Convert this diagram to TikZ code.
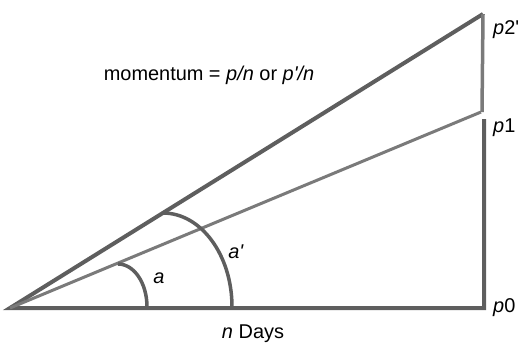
\documentclass[tikz,border=0pt]{standalone}
\usepackage{fontspec}
\setmainfont{Liberation Sans}
\usepackage{xcolor}
\definecolor{lineDark}{HTML}{5E5E5E}
\definecolor{lineLight}{HTML}{7A7A7A}
\usepackage{tikz}
\usetikzlibrary{calc}

\begin{document}
\begin{tikzpicture}[
    x=1bp, y=1bp,
    darkline/.style={draw=lineDark, line width=4bp, line join=miter},
    lightline/.style={draw=lineLight, line width=3bp},
    arcline/.style={draw=lineDark, line width=3.5bp},
    lbl/.style={font=\fontsize{20}{24}\selectfont, text=black, inner sep=0pt}
]
\useasboundingbox (0,0) rectangle (522,343);

% corner points of the two triangles
\coordinate (origin) at (10,35);
\coordinate (base) at (484,35);
\coordinate (top) at (483,329);
\coordinate (mid) at (481,231);
\coordinate (upperEnd) at (482,231);
\coordinate (lowerTop) at (484,224);

% ends of the angle arcs
\coordinate (aTop) at (118,79);
\coordinate (aBot) at (147,36);
\coordinate (bTop) at (163,130);
\coordinate (bBot) at (232,36);

% triangles
\draw [darkline] (lowerTop) -- (base) -- (origin) -- (top);
\draw [lightline] (origin) -- (mid);
\draw [lightline, line width=3.5bp] (top) -- (upperEnd);

% angle arcs
\draw [arcline] (aTop) .. controls ($(aTop)+(16,0)$) and ($(aBot)+(0,24)$) .. (aBot);
\draw [arcline] (bTop) .. controls ($(bTop)+(38,0)$) and ($(bBot)+(0,52)$) .. (bBot);

% labels
\node (angA) [lbl] at (159,65) {\textit{a}};
\node (angB) [lbl] at (236,91) {\textit{a\textquotesingle}};
\node (formula) [lbl] at (209,268) {momentum = \textit{p/n} or \textit{p\textquotesingle/n}};
\node (lblP2) [lbl, anchor=west] at (493,313) {\textit{p}2\textquotesingle};
\node (lblP1) [lbl, anchor=west] at (493,215) {\textit{p}1};
\node (lblP0) [lbl, anchor=west] at (493,35) {\textit{p}0};
\node (days) [lbl] at (253,9) {\textit{n} Days};

\end{tikzpicture}
\end{document}
